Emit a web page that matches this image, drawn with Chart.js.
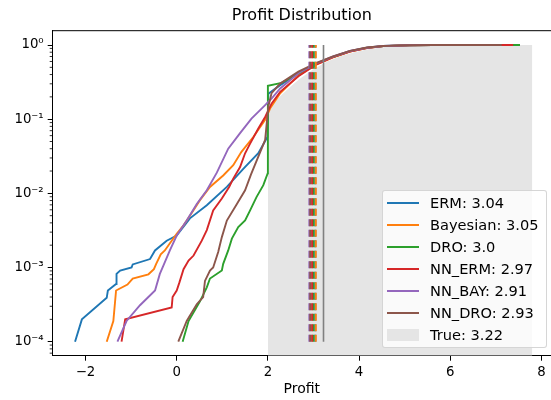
<!DOCTYPE html>
<html>
<head>
<meta charset="utf-8">
<script src="https://cdn.jsdelivr.net/npm/chart.js@4.4.1/dist/chart.umd.min.js"></script>
<style>
  html, body { margin: 0; padding: 0; background: #fff; overflow: hidden; }
  #wrap { position: relative; width: 551px; height: 400px; }
  #legend {
    position: absolute; left: 382px; top: 190px; width: 165px; height: 158px;
    box-sizing: border-box; border: 1px solid rgba(204,204,204,0.8); border-radius: 3px;
    background: rgba(255,255,255,0.8); font-family: "DejaVu Sans"; font-size: 14.6px; color: #000;
  }
  .row { position: absolute; left: 0; right: 0; height: 20px; }
  .handle { position: absolute; left: 4px; width: 32px; }
  .label { position: absolute; left: 47px; top: 0; line-height: 20px; white-space: nowrap; }
</style>
</head>
<body>
<div id="wrap">
  <canvas id="cdfChart" width="551" height="400"></canvas>
  <div id="legend"></div>
</div>
<script>
// series names and their mean profits
const names = ["ERM", "Bayesian", "DRO", "NN_ERM", "NN_BAY", "NN_DRO"];
const means = [3.04, 3.05, 3.0, 2.97, 2.91, 2.93];
const trueName = "True";
const trueMean = 3.22;

const ermProfit = [-2.23, -2.08, -1.535, -1.51, -1.33, -1.32, -1.24, -0.99, -0.965, -0.585, -0.476, -0.22, 0.0, 0.29, 0.66, 1.10, 1.46, 1.79, 1.99, 2.01, 2.27, 2.68, 3.07, 3.43, 3.80, 4.17, 4.53, 5.1, 5.6, 6.9];
const ermCdf = [1e-4, 2.0e-4, 3.9e-4, 4.9e-4, 6.0e-4, 8.2e-4, 9.1e-4, 1.0e-3, 1.1e-3, 1.3e-3, 1.7e-3, 2.3e-3, 2.7e-3, 4.6e-3, 6.9e-3, 0.0122, 0.0214, 0.0347, 0.0575, 0.22, 0.288, 0.417, 0.562, 0.692, 0.826, 0.918, 0.968, 0.993, 0.999, 1.0];

const bayProfit = [-1.535, -1.39, -1.33, -1.08, -0.965, -0.62, -0.50, -0.45, -0.35, -0.26, -0.18, 0.0, 0.15, 0.29, 0.51, 0.73, 1.02, 1.24, 1.42, 1.68, 1.94, 2.05, 2.27, 2.67, 3.07, 3.43, 3.80, 4.17, 4.53, 5.1, 5.6, 7.0];
const bayCdf = [1e-4, 1.9e-4, 4.9e-4, 5.9e-4, 7.1e-4, 8.1e-4, 9.5e-4, 1.12e-3, 1.51e-3, 1.7e-3, 2.0e-3, 2.85e-3, 3.7e-3, 5.0e-3, 8.1e-3, 0.0122, 0.0174, 0.024, 0.0363, 0.0575, 0.098, 0.14, 0.224, 0.389, 0.55, 0.684, 0.817, 0.912, 0.966, 0.993, 0.999, 1.0];

const droProfit = [0.13, 0.26, 0.51, 0.66, 0.73, 0.99, 1.02, 1.13, 1.21, 1.35, 1.50, 1.61, 1.75, 1.90, 1.995, 2.0, 2.30, 2.67, 3.07, 3.43, 3.80, 4.17, 4.53, 5.1, 5.6, 7.53];
const droCdf = [1e-4, 1.9e-4, 3.5e-4, 5.4e-4, 7.1e-4, 9.1e-4, 1.12e-3, 1.7e-3, 2.45e-3, 3.5e-3, 4.3e-3, 5.9e-3, 8.9e-3, 0.0129, 0.0186, 0.282, 0.309, 0.41, 0.56, 0.69, 0.82, 0.915, 0.967, 0.993, 0.999, 1.0];

const nnErmProfit = [-1.21, -1.13, -0.11, -0.09, 0.0, 0.06, 0.15, 0.26, 0.37, 0.55, 0.66, 0.80, 0.99, 1.15, 1.24, 1.39, 1.50, 1.61, 1.79, 1.94, 2.08, 2.27, 2.67, 3.07, 3.43, 3.80, 4.17, 4.53, 5.1, 5.6, 7.38];
const nnErmCdf = [1e-4, 2.0e-4, 2.9e-4, 4.0e-4, 4.9e-4, 6.3e-4, 9.5e-4, 1.24e-3, 1.45e-3, 2.3e-3, 3.2e-3, 5.9e-3, 8.5e-3, 0.0122, 0.0158, 0.0226, 0.0347, 0.0468, 0.075, 0.107, 0.162, 0.234, 0.38, 0.55, 0.685, 0.818, 0.913, 0.966, 0.993, 0.999, 1.0];

const nnBayProfit = [-1.30, -1.10, -0.805, -0.475, -0.37, -0.29, -0.15, 0.0, 0.22, 0.44, 0.66, 0.88, 1.13, 1.39, 1.64, 1.94, 2.08, 2.27, 2.67, 3.07, 3.43, 3.80, 4.17, 4.53, 5.1, 5.6, 6.8];
const nnBayCdf = [1e-4, 1.9e-4, 3.1e-4, 4.9e-4, 8.2e-4, 1.07e-3, 1.7e-3, 2.7e-3, 4.3e-3, 7.2e-3, 0.011, 0.019, 0.04, 0.065, 0.102, 0.155, 0.19, 0.26, 0.417, 0.57, 0.70, 0.83, 0.92, 0.97, 0.995, 0.999, 1.0];

const nnDroProfit = [0.035, 0.22, 0.44, 0.58, 0.62, 0.73, 0.80, 0.91, 0.99, 1.10, 1.32, 1.50, 1.63, 1.94, 2.01, 2.08, 2.27, 2.67, 3.07, 3.43, 3.80, 4.17, 4.53, 5.1, 5.6, 7.13];
const nnDroCdf = [1e-4, 1.9e-4, 3.2e-4, 4.0e-4, 6.6e-4, 9.1e-4, 1.0e-3, 1.62e-3, 2.57e-3, 4.3e-3, 7.2e-3, 0.011, 0.018, 0.0525, 0.148, 0.224, 0.302, 0.437, 0.575, 0.705, 0.835, 0.925, 0.972, 0.996, 0.9995, 1.0];

// true distribution (shaded)
const trueProfit = [2.0, 2.2, 2.45, 2.7, 3.0, 3.3, 3.6, 3.9, 4.2, 4.6, 5.0, 5.5, 6.0, 7.8];
const trueCdf = [0.13, 0.185, 0.26, 0.35, 0.47, 0.6, 0.71, 0.8, 0.88, 0.945, 0.975, 0.992, 0.998, 1.0];

// mean markers span this probability range
const meanLineRange = [1e-4, 1];

// axes
const xTicks = [-2, 0, 2, 4, 6, 8];
const yTicks = [1e-4, 1e-3, 1e-2, 1e-1, 1];

const profits = [ermProfit, bayProfit, droProfit, nnErmProfit, nnBayProfit, nnDroProfit];
const cdfs = [ermCdf, bayCdf, droCdf, nnErmCdf, nnBayCdf, nnDroCdf];
const colors = ["#1f77b4", "#ff7f0e", "#2ca02c", "#d62728", "#9467bd", "#8c564b"];
const fillColor = "rgb(229,229,229)";

const toPoints = (xs, ys) => xs.map((x, i) => ({ x: x, y: ys[i] }));
// python-style float text: 3.0 stays "3.0"
const pyFloat = v => Number.isInteger(v) ? v.toFixed(1) : String(v);

const datasets = [];
// shaded true CDF, at the back
datasets.push({
    label: trueName,
    data: toPoints(trueProfit, trueCdf),
    borderColor: "rgba(0,0,0,0)",
    borderWidth: 0,
    backgroundColor: fillColor,
    fill: "start",
    pointRadius: 0,
    order: 100
});
names.forEach((name, i) => {
    datasets.push({
        label: name,
        data: toPoints(profits[i], cdfs[i]),
        borderColor: colors[i],
        borderWidth: 1.9,
        pointRadius: 0,
        fill: false,
        tension: 0,
        order: 20 - i
    });
});
// dashed mean markers
names.forEach((name, i) => {
    datasets.push({
        label: name + " mean",
        data: meanLineRange.map(p => ({ x: means[i], y: p })),
        borderColor: colors[i],
        borderWidth: 2,
        borderDash: [7, 3.5],
        pointRadius: 0,
        fill: false,
        order: 10 - i
    });
});
datasets.push({
    label: trueName + " mean",
    data: meanLineRange.map(p => ({ x: trueMean, y: p })),
    borderColor: "#808080",
    borderWidth: 1.6,
    pointRadius: 0,
    fill: false,
    order: 0
});

const supDigits = { "0": "\u2070", "1": "\u00b9", "2": "\u00b2", "3": "\u00b3", "4": "\u2074", "-": "\u207b" };
const logLabel = v => "10" + String(Math.round(Math.log10(v))).split("").map(c => supDigits[c]).join("");

// top spine and minor log ticks
const axisExtras = {
    id: "axisExtras",
    afterDraw(chart) {
        const { ctx, chartArea: a } = chart;
        const y = chart.scales.y;
        ctx.save();
        ctx.strokeStyle = "#000";
        ctx.lineWidth = 1;
        ctx.beginPath();
        ctx.moveTo(a.left - 0.5, a.top);
        ctx.lineTo(a.right, a.top);
        ctx.stroke();
        ctx.lineWidth = 0.8;
        for (let e = -5; e <= 0; e++) {
            for (let k = 2; k <= 9; k++) {
                const v = k * Math.pow(10, e);
                if (v < y.min || v > y.max) continue;
                const py = y.getPixelForValue(v);
                ctx.beginPath();
                ctx.moveTo(a.left - 3, py);
                ctx.lineTo(a.left, py);
                ctx.stroke();
            }
        }
        ctx.restore();
    }
};

const font = "DejaVu Sans";
const ctx = document.getElementById("cdfChart").getContext("2d");
new Chart(ctx, {
    type: "line",
    data: { datasets: datasets },
    options: {
        responsive: false,
        animation: false,
        devicePixelRatio: 1,
        layout: { padding: { left: 0, right: 0, top: 0, bottom: 0 } },
        plugins: {
            legend: { display: false },
            tooltip: { enabled: false },
            title: {
                display: true,
                fullSize: false,
                text: "Profit Distribution",
                color: "#000",
                font: { family: font, size: 16, weight: "normal" },
                padding: { top: 6, bottom: 5.5 }
            }
        },
        scales: {
            x: {
                type: "linear",
                min: -2.72,
                max: 8.21,
                bounds: "data",
                afterBuildTicks: s => { s.ticks = xTicks.map(v => ({ value: v })); },
                afterFit: s => { s.height = 44.3; },
                ticks: {
                    color: "#000",
                    font: { family: font, size: 13.3 },
                    padding: 4,
                    maxRotation: 0,
                    callback: v => String(v).replace("-", "\u2212")
                },
                grid: { drawOnChartArea: false, drawTicks: true, tickLength: 5, tickColor: "#000", tickWidth: 1 },
                border: { display: true, color: "#000", width: 1 },
                title: {
                    display: true,
                    text: "Profit",
                    color: "#000",
                    font: { family: font, size: 14 },
                    padding: { top: 0, bottom: 2.5 }
                }
            },
            y: {
                type: "logarithmic",
                min: 6.47e-5,
                max: 1.56,
                bounds: "data",
                afterBuildTicks: s => { s.ticks = yTicks.map(v => ({ value: v, major: true })); },
                afterFit: s => { s.width = 52.7; },
                ticks: {
                    color: "#000",
                    font: { family: font, size: 13.3 },
                    padding: 4,
                    callback: v => logLabel(v)
                },
                grid: { drawOnChartArea: false, drawTicks: true, tickLength: 5, tickColor: "#000", tickWidth: 1 },
                border: { display: true, color: "#000", width: 1 }
            }
        }
    },
    plugins: [axisExtras]
});

// legend box
const legend = document.getElementById("legend");
const legendRows = names.map((n, i) => ({ text: n + ": " + pyFloat(means[i]), color: colors[i], patch: false }));
legendRows.push({ text: trueName + ": " + pyFloat(trueMean), color: fillColor, patch: true });
legendRows.forEach((r, i) => {
    const row = document.createElement("div");
    row.className = "row";
    row.style.top = (11.7 + i * 22.1 - 10) + "px";
    const h = document.createElement("div");
    h.className = "handle";
    h.style.background = r.color;
    h.style.top = r.patch ? "4px" : "9px";
    h.style.height = r.patch ? "12px" : "2px";
    const t = document.createElement("div");
    t.className = "label";
    t.textContent = r.text;
    row.appendChild(h);
    row.appendChild(t);
    legend.appendChild(row);
});
</script>
</body>
</html>
